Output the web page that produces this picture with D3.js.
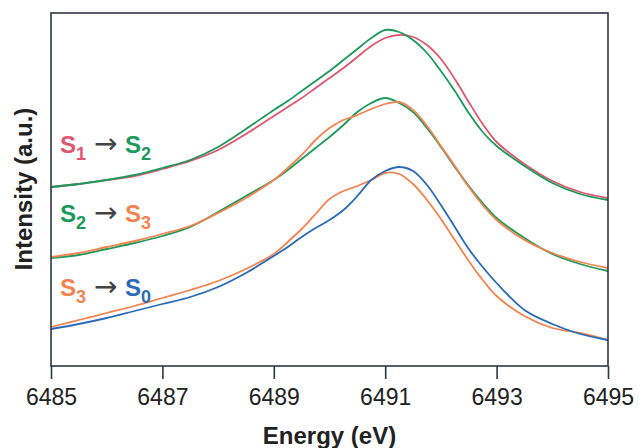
<!DOCTYPE html>
<html>
<head>
<meta charset="utf-8">
<script src="https://cdn.jsdelivr.net/npm/d3@7"></script>
<style>
  html, body { margin: 0; padding: 0; background: #fff; }
  svg { display: block; font-family: "Liberation Sans", Arial, Helvetica, sans-serif; }
</style>
</head>
<body>
<svg id="chart" width="639" height="448"></svg>
<script>
// Energy grid (eV)
const energy = [6485, 6485.5, 6486, 6486.5, 6487, 6487.5, 6488, 6488.5, 6489,
  6489.25, 6489.5, 6489.75, 6490, 6490.25, 6490.5, 6490.75, 6491, 6491.25,
  6491.5, 6491.75, 6492, 6492.25, 6492.5, 6492.75, 6493, 6493.5, 6494, 6494.5, 6495];

// Intensity (a.u., offset-stacked as in the figure)
const s1a = [1.79,1.82,1.86,1.90,1.97,2.05,2.16,2.32,2.50,2.59,2.68,2.78,2.88,2.98,3.09,3.20,3.28,3.31,3.29,3.21,3.07,2.87,2.64,2.42,2.24,2.02,1.85,1.74,1.68];
const s2a = [1.79,1.82,1.86,1.91,1.98,2.06,2.19,2.37,2.56,2.65,2.75,2.85,2.95,3.06,3.17,3.28,3.36,3.34,3.26,3.13,2.95,2.75,2.53,2.34,2.20,2.00,1.83,1.72,1.66];
const s2b = [1.08,1.11,1.17,1.23,1.30,1.39,1.54,1.70,1.86,1.96,2.07,2.18,2.29,2.41,2.54,2.63,2.68,2.63,2.54,2.38,2.19,1.99,1.80,1.63,1.48,1.28,1.12,1.02,0.95];
const s3b = [1.09,1.13,1.19,1.25,1.32,1.40,1.53,1.68,1.86,1.98,2.11,2.26,2.38,2.46,2.51,2.57,2.62,2.64,2.56,2.40,2.20,2.00,1.79,1.61,1.46,1.26,1.13,1.04,0.98];
const s3c = [0.39,0.46,0.53,0.60,0.68,0.76,0.85,0.97,1.12,1.24,1.37,1.52,1.67,1.75,1.80,1.86,1.93,1.92,1.82,1.66,1.47,1.26,1.05,0.86,0.70,0.50,0.38,0.33,0.26];
const s0c = [0.37,0.42,0.48,0.55,0.62,0.69,0.79,0.93,1.10,1.19,1.29,1.38,1.46,1.56,1.70,1.86,1.95,1.99,1.95,1.81,1.61,1.39,1.17,0.99,0.83,0.56,0.42,0.32,0.26];

const xTicks = [6485, 6487, 6489, 6491, 6493, 6495];

const colors = { S1: "#e0566e", S2: "#1c9a5a", S3: "#f4834f", S0: "#2a6bb8" };

const series = [
  { values: s1a, color: colors.S1 },
  { values: s2a, color: colors.S2 },
  { values: s2b, color: colors.S2 },
  { values: s3b, color: colors.S3 },
  { values: s3c, color: colors.S3 },
  { values: s0c, color: colors.S0 }
];

const labelFrom = ["1", "2", "3"];
const labelTo = ["2", "3", "0"];
const labelFromColor = [colors.S1, colors.S2, colors.S3];
const labelToColor = [colors.S2, colors.S3, colors.S0];
const labelLevel = [2.13, 1.44, 0.70];

const svg = d3.select("#chart");
const margin = { left: 51, right: 31, top: 13, bottom: 82 };
const W = 639, H = 448;

const x = d3.scaleLinear().domain([6485, 6495]).range([margin.left, W - margin.right]);
const y = d3.scaleLinear().domain([0, 3.53]).range([H - margin.bottom, margin.top]);

const axisColor = "#2e3640";

// lines
const line = d3.line().x((d, i) => x(energy[i])).y(d => y(d)).curve(d3.curveCatmullRom.alpha(0.5));
svg.append("g").selectAll("path").data(series).join("path")
  .attr("d", d => line(d.values))
  .attr("fill", "none")
  .attr("stroke", d => d.color)
  .attr("stroke-width", 1.8)
  .attr("stroke-linejoin", "round");

// frame
svg.append("rect")
  .attr("x", x(6485)).attr("y", y(3.53))
  .attr("width", x(6495) - x(6485)).attr("height", y(0) - y(3.53))
  .attr("fill", "none").attr("stroke", axisColor).attr("stroke-width", 1.6);

// x axis
const xAxis = d3.axisBottom(x).tickValues(xTicks).tickFormat(d3.format("d")).tickSize(13).tickPadding(10);
const gx = svg.append("g").attr("transform", `translate(0,${y(0)})`).call(xAxis);
gx.select(".domain").remove();
gx.selectAll(".tick line").attr("stroke", axisColor).attr("stroke-width", 1.6);
gx.selectAll(".tick text").attr("fill", "#222").attr("font-size", 23)
  .attr("font-family", "'Liberation Sans', Arial, sans-serif");

// axis titles
svg.append("text")
  .attr("x", (x(6485) + x(6495)) / 2).attr("y", 444)
  .attr("text-anchor", "middle").attr("font-size", 24).attr("font-weight", "bold").attr("fill", "#222")
  .text("Energy (eV)");

svg.append("text")
  .attr("transform", `translate(32,${189}) rotate(-90)`)
  .attr("text-anchor", "middle").attr("font-size", 24).attr("font-weight", "bold").attr("fill", "#222")
  .text("Intensity (a.u.)");

// transition labels
const lg = svg.append("g");
labelLevel.forEach((lv, i) => {
  const by = y(lv);
  const x0 = x(6485) + 9;
  const g = lg.append("g").attr("transform", `translate(${x0},${by})`);
  g.append("text").attr("x", 0).attr("y", 0).attr("font-size", 24).attr("font-weight", "bold")
    .attr("fill", labelFromColor[i]).text("S");
  g.append("text").attr("x", 16).attr("y", 7).attr("font-size", 18).attr("font-weight", "bold")
    .attr("fill", labelFromColor[i]).text(labelFrom[i]);
  g.append("text").attr("x", 34).attr("y", 0).attr("font-size", 28)
    .attr("font-family", "'DejaVu Sans', sans-serif").attr("fill", "#444").text("\u2192");
  g.append("text").attr("x", 65).attr("y", 0).attr("font-size", 24).attr("font-weight", "bold")
    .attr("fill", labelToColor[i]).text("S");
  g.append("text").attr("x", 81).attr("y", 7).attr("font-size", 18).attr("font-weight", "bold")
    .attr("fill", labelToColor[i]).text(labelTo[i]);
});
</script>
</body>
</html>
